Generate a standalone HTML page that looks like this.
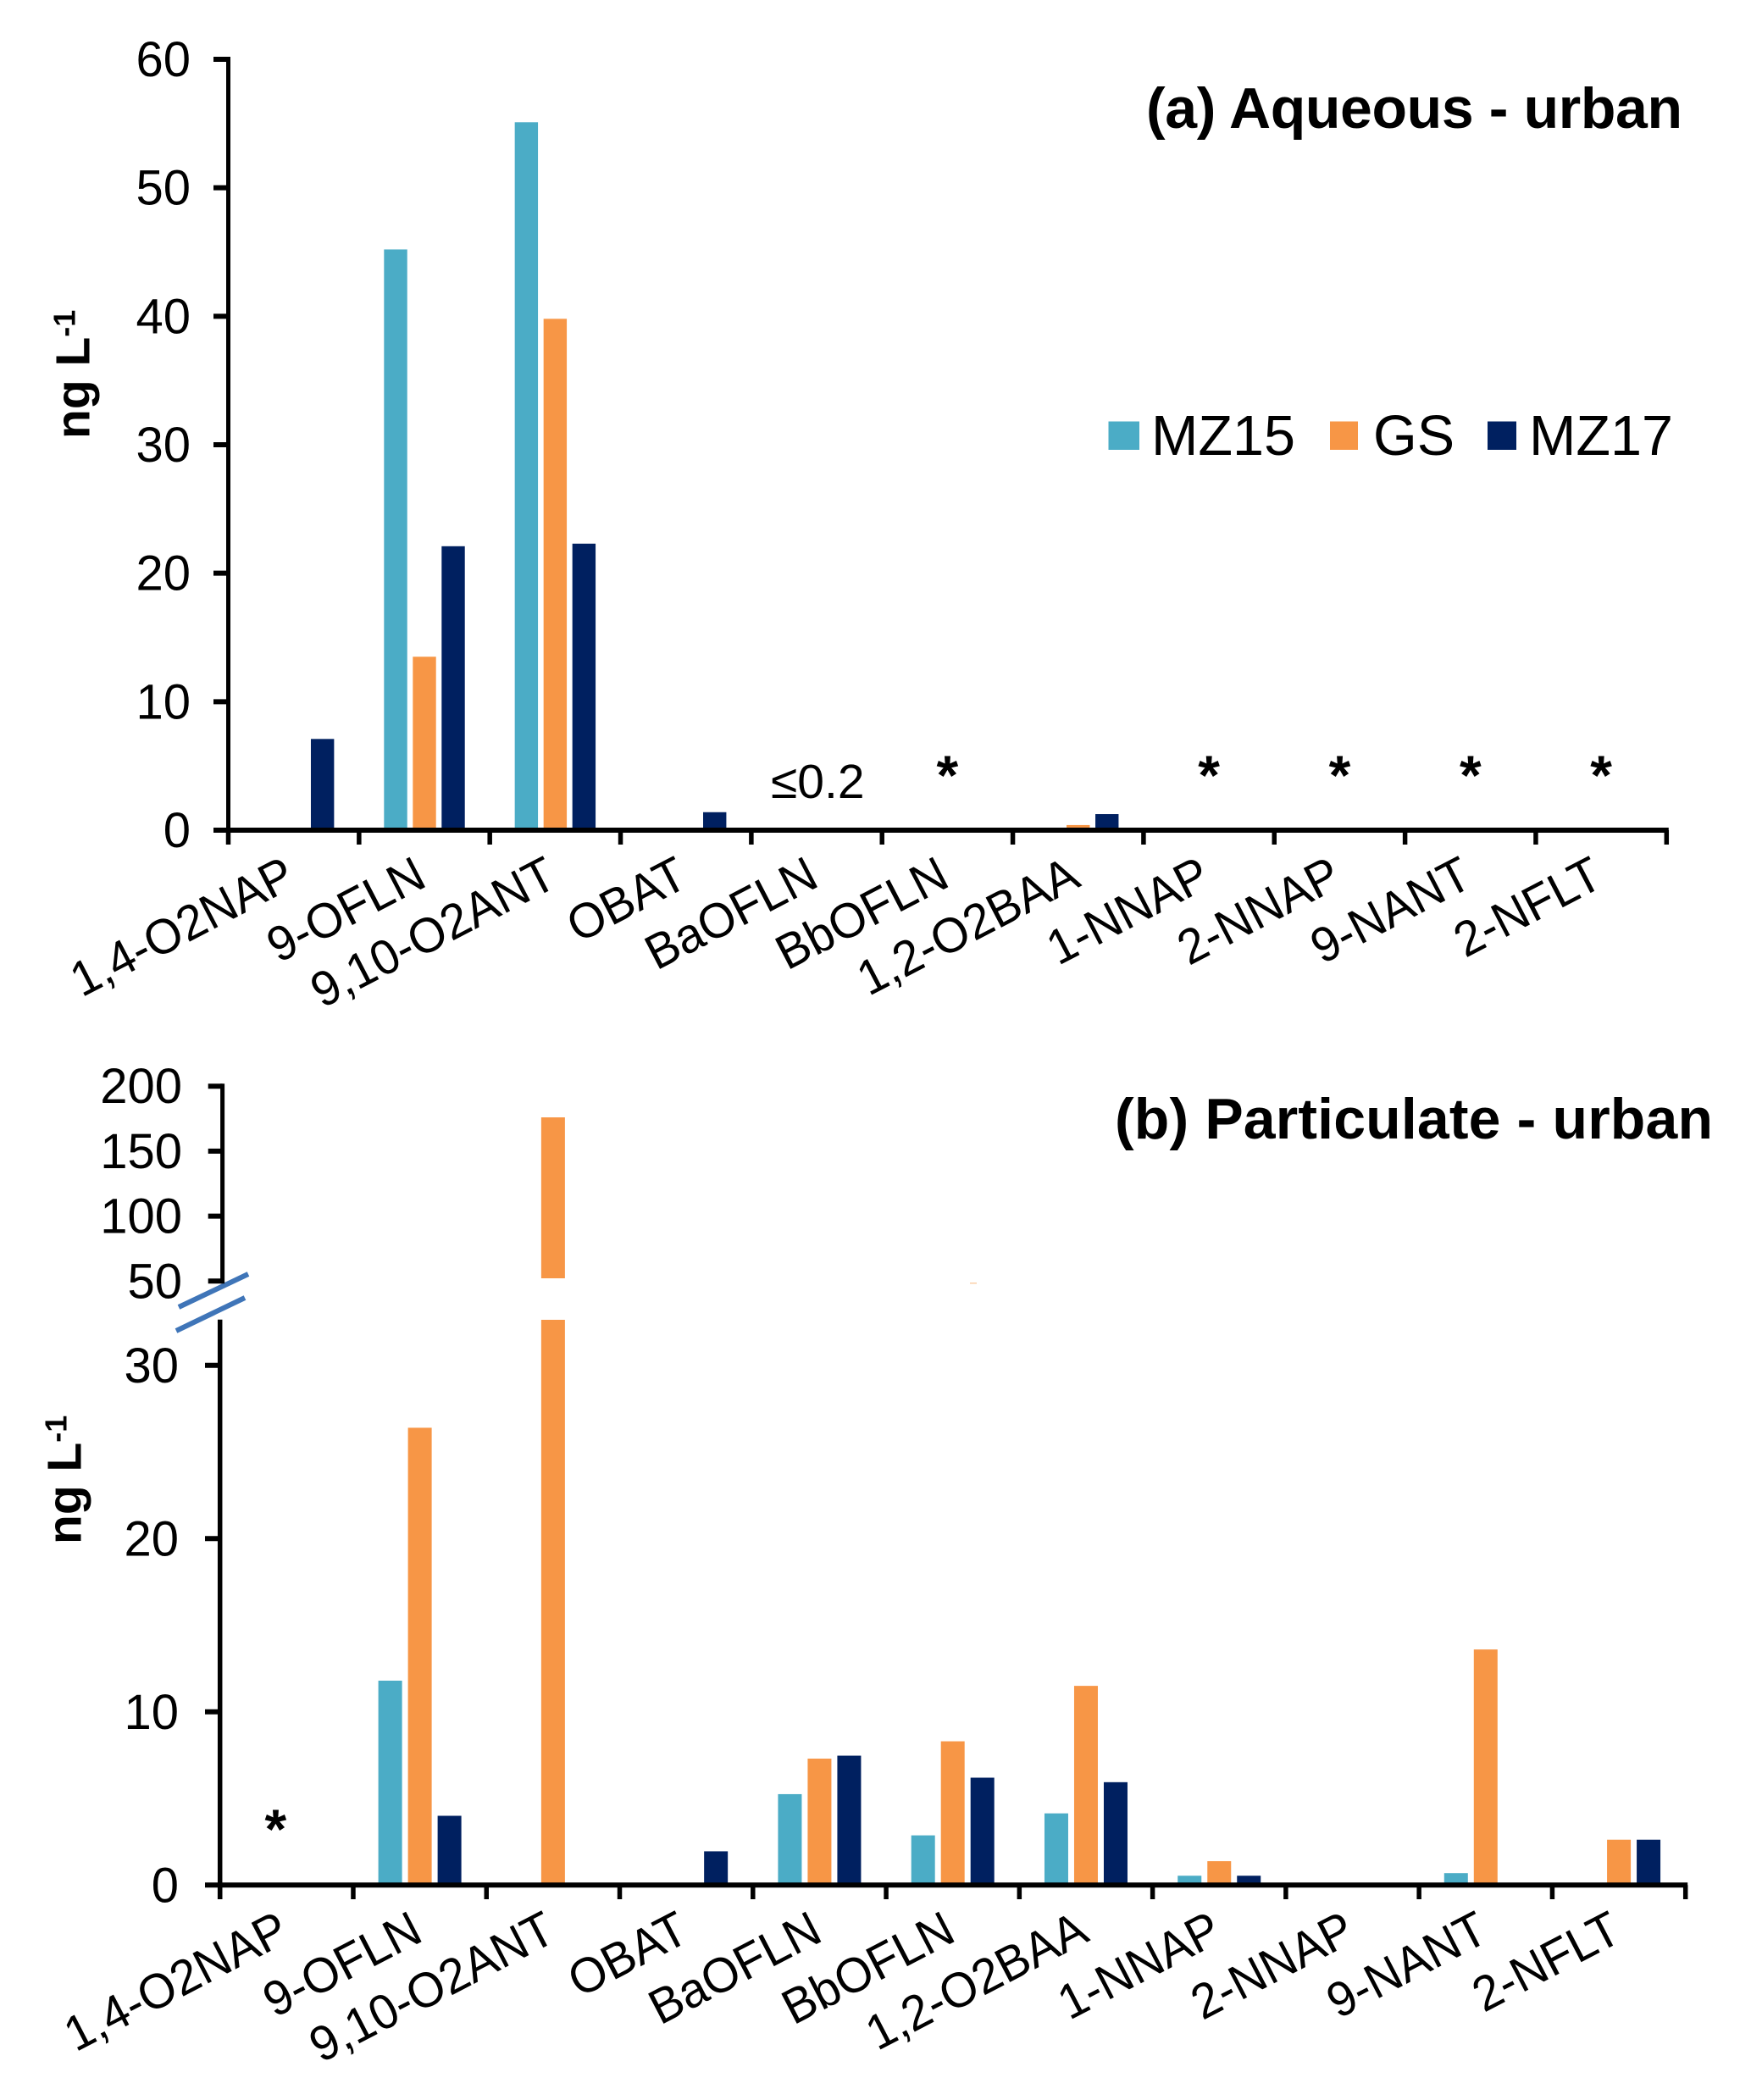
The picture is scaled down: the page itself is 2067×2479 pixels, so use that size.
<!DOCTYPE html>
<html>
<head>
<meta charset="utf-8">
<title>Aqueous and particulate urban concentrations</title>
<style>
html,body{margin:0;padding:0;background:#fff;width:2067px;height:2479px;overflow:hidden}
svg{display:block}
text{font-family:"Liberation Sans",Arial,sans-serif;fill:#000}
</style>
</head>
<body>
<svg id="chart" xmlns="http://www.w3.org/2000/svg" width="2067" height="2479" viewBox="0 0 2067 2479">
  <rect x="0" y="0" width="2067" height="2479" fill="#ffffff"/>
  <g id="panel-a">
    <text x="1353" y="151" font-size="68" font-weight="700" textLength="633" lengthAdjust="spacing">(a) Aqueous - urban</text>
    <text transform="translate(105.5,518) rotate(-90)" font-size="57" font-weight="700">ng L<tspan font-size="36" dy="-17">-1</tspan></text>
    <text x="910" y="942" font-size="57">≤0.2</text>
    <g>
      <g>
        <rect x="1308.5" y="497.5" width="36.5" height="33.5" fill="#4bacc6"/>
        <text x="1359" y="537" font-size="66.5">MZ15</text>
      </g>
      <g>
        <rect x="1570" y="497.5" width="33" height="33.5" fill="#f79646"/>
        <text x="1621" y="537" font-size="66.5">GS</text>
      </g>
      <g>
        <rect x="1756" y="497.5" width="34" height="33.5" fill="#002060"/>
        <text x="1805" y="537" font-size="66.5">MZ17</text>
      </g>
    </g>
  </g>
  <g id="panel-b">
    <text x="1316" y="1344" font-size="68" font-weight="700" textLength="706" lengthAdjust="spacing">(b) Particulate - urban</text>
    <text transform="translate(95.5,1823) rotate(-90)" font-size="57" font-weight="700">ng L<tspan font-size="36" dy="-17">-1</tspan></text>
    <rect x="1145" y="1514" width="8" height="1.5" fill="#fbd0a8"/>
    <g>
      <line x1="211" y1="1543" x2="293" y2="1504" stroke="#3f75b8" stroke-width="6"/>
      <line x1="208" y1="1571" x2="289" y2="1532" stroke="#3f75b8" stroke-width="6"/>
    </g>
  </g>
</svg>
<script>
const categories = ["1,4-O2NAP","9-OFLN","9,10-O2ANT","OBAT","BaOFLN","BbOFLN","1,2-O2BAA","1-NNAP","2-NNAP","9-NANT","2-NFLT"];
const seriesNames = ["MZ15","GS","MZ17"];
const aqueousMZ15 = [0,45.2,55.1,0,0,0,0,0,0,0,0];
const aqueousGS = [0,13.5,39.8,0,0,0,0.4,0,0,0,0];
const aqueousMZ17 = [7.1,22.1,22.3,1.4,0,0,1.25,0,0,0,0];
const particulateMZ15 = [0,11.8,0,0,5.25,2.87,4.14,0.54,0,0.69,0];
const particulateGS = [0,26.4,176,0,7.3,8.3,11.5,1.38,0,13.6,2.62];
const particulateMZ17 = [0,4.0,0,1.95,7.47,6.2,5.94,0.54,0,0,2.62];
const aqueousTicks = [0,10,20,30,40,50,60];
const particulateLowerTicks = [0,10,20,30];
const particulateUpperTicks = [50,100,150,200];
const aqueousStarCategories = ["BbOFLN","1-NNAP","2-NNAP","9-NANT","2-NFLT"];
const particulateStarCategories = ["1,4-O2NAP"];

const NS = "http://www.w3.org/2000/svg";
const colors = ["#4bacc6","#f79646","#002060"];
const aqueousSeries = [aqueousMZ15, aqueousGS, aqueousMZ17];
const particulateSeries = [particulateMZ15, particulateGS, particulateMZ17];

function make(parent, tag, attrs, content) {
  const el = document.createElementNS(NS, tag);
  for (const k in attrs) el.setAttribute(k, attrs[k]);
  if (content !== undefined) el.textContent = content;
  parent.appendChild(el);
  return el;
}

/* axis functions */
const ax = { x0: 269.5, x1: 1967.3, zeroY: 980, unit: 15.167 };
const bx = { x0: 259.7, x1: 1989.7, zeroY: 2225.3, unit: 20.45, breakTop: 1558, breakVal: 50, upperY50: 1512.3, upperUnit: 1.534, upperBottom: 1509 };
function bandEdge(p, i) { return p.x0 + i * (p.x1 - p.x0) / categories.length; }
function bandCenter(p, i) { return bandEdge(p, i + 0.5); }
function yA(v) { return ax.zeroY - v * ax.unit; }
function yBLower(v) { return bx.zeroY - v * bx.unit; }
function yBUpper(v) { return bx.upperY50 - (v - bx.breakVal) * bx.upperUnit; }

function drawAxisCommon(g, p, name, tickBottom, labelY, labelShift) {
  const h = make(g, "line", { x1: p.x0 - 2.5, y1: p.zeroY, x2: p.x1 + 2.5, y2: p.zeroY, stroke: "#000", "stroke-width": 6 });
  
  
  for (let i = 0; i <= categories.length; i++) {
    const t = make(g, "line", { x1: bandEdge(p, i), y1: p.zeroY, x2: bandEdge(p, i), y2: tickBottom, stroke: "#000", "stroke-width": 5.5 });
    
    
  }
  categories.forEach(function (c, i) {
    const cx = bandCenter(p, i) + labelShift;
    const l = make(g, "text", { x: 0, y: 0, "font-size": 58, "text-anchor": "end", transform: "translate(" + cx + "," + labelY + ") rotate(-27.5) scale(0.97,1)" }, c);
    
    
  });
}

function drawYTick(g, name, y, xLeft, xRight, labelX, label) {
  const t = make(g, "line", { x1: xLeft, y1: y, x2: xRight, y2: y, stroke: "#000", "stroke-width": 6 });
  
  
  const l = make(g, "text", { x: labelX, y: y + 20, "font-size": 58, "text-anchor": "end" }, label);
  
  
}

function drawStar(g, name, x, y) {
  const s = make(g, "text", { x: x, y: y, "font-size": 66, "font-weight": 700, "text-anchor": "middle" }, "*");
  
  
}

/* panel a */
const gA = document.getElementById("panel-a");
aqueousSeries.forEach(function (vals, s) {
  vals.forEach(function (v, i) {
    if (v <= 0) return;
    const cx = bandCenter(ax, i) + (s - 1) * 34;
    const r = make(gA, "rect", { x: cx - 13.7, y: yA(v), width: 27.4, height: ax.zeroY - yA(v), fill: colors[s] });
    
    
  });
});
const yAxisA = make(gA, "line", { x1: ax.x0, y1: yA(60) - 3, x2: ax.x0, y2: 997, stroke: "#000", "stroke-width": 5 });


aqueousTicks.forEach(function (v) {
  drawYTick(gA, 'panel-a', yA(v), 252, ax.x0, 225, String(v));
});
drawAxisCommon(gA, ax, 'panel-a', 997, 1045, 5);
aqueousStarCategories.forEach(function (c) {
  drawStar(gA, 'panel-a', bandCenter(ax, categories.indexOf(c)), 938);
});

/* panel b */
const gB = document.getElementById("panel-b");
particulateSeries.forEach(function (vals, s) {
  vals.forEach(function (v, i) {
    if (v <= 0) return;
    const cx = bandCenter(bx, i) + (s - 1) * 35;
    if (v >= bx.breakVal) {
      const up = make(gB, "rect", { x: cx - 14, y: yBUpper(v), width: 28, height: bx.upperBottom - yBUpper(v), fill: colors[s] });
      
      
      const lo = make(gB, "rect", { x: cx - 14, y: bx.breakTop, width: 28, height: bx.zeroY - bx.breakTop, fill: colors[s] });
      
      
    } else {
      const r = make(gB, "rect", { x: cx - 14, y: yBLower(v), width: 28, height: bx.zeroY - yBLower(v), fill: colors[s] });
      
      
    }
  });
});
const yAxisBLower = make(gB, "line", { x1: bx.x0, y1: 1557.7, x2: bx.x0, y2: 2242, stroke: "#000", "stroke-width": 5.5 });


const yAxisBUpper = make(gB, "line", { x1: 262.6, y1: yBUpper(200) - 3, x2: 262.6, y2: yBUpper(50) + 3, stroke: "#000", "stroke-width": 5 });


particulateLowerTicks.forEach(function (v) {
  drawYTick(gB, 'panel-b-lower', yBLower(v), 242, bx.x0, 211, String(v));
});
particulateUpperTicks.forEach(function (v) {
  drawYTick(gB, 'panel-b-upper', yBUpper(v), 245.7, 262.6, 215, String(v));
});
drawAxisCommon(gB, bx, 'panel-b', 2242, 2290, 6);
particulateStarCategories.forEach(function (c) {
  drawStar(gB, 'panel-b', bandCenter(bx, categories.indexOf(c)) - 13, 2182);
});
</script>
</body>
</html>
